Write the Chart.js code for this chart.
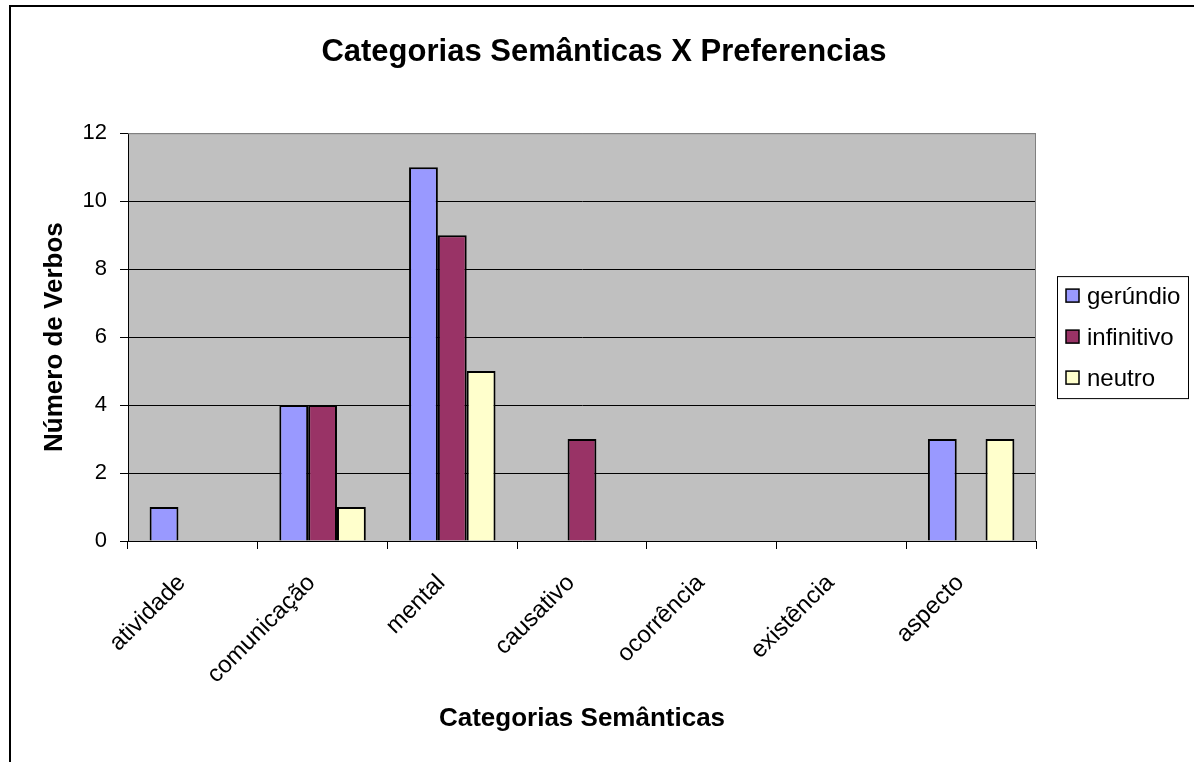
<!DOCTYPE html>
<html>
<head>
<meta charset="utf-8">
<title>Categorias Semânticas X Preferencias</title>
<script src="https://cdn.jsdelivr.net/npm/chart.js@4/dist/chart.umd.min.js"></script>
<style>
  html, body { margin: 0; padding: 0; background: #fff; overflow: hidden; }
  #frame {
    position: absolute; left: 9px; top: 5px; width: 1300px; height: 900px;
    border-left: 2px solid #000; border-top: 2px solid #000;
  }
  #wrap { position: absolute; left: 0; top: 0; width: 1194px; height: 762px; }
</style>
</head>
<body>
<div id="frame"></div>
<div id="wrap"><canvas id="semChart" width="1194" height="762"></canvas></div>
<script>
// categorias e contagens de verbos por preferência
const categorias = ['atividade', 'comunicação', 'mental', 'causativo', 'ocorrência', 'existência', 'aspecto'];
const gerundio   = [1, 4, 11, 0, 0, 0, 3];
const infinitivo = [0, 4, 9, 3, 0, 0, 0];
const neutro     = [0, 1, 5, 0, 0, 0, 3];
const yTicks     = [0, 2, 4, 6, 8, 10, 12];

const FONT = 'Arial, "Liberation Sans", sans-serif';

// plot area background + gray frame, Excel style
const plotArea = {
    id: 'plotArea',
    afterLayout(chart) {
        // center the title over the whole frame, not just the plot + padding
        if (chart.titleBlock) {
            chart.titleBlock.left = 14;
            chart.titleBlock.right = 1194;
        }
    },
    beforeDraw(chart) {
        const { ctx, chartArea: a } = chart;
        ctx.save();
        ctx.fillStyle = '#c0c0c0';
        ctx.fillRect(a.left, a.top, a.right - a.left, a.bottom - a.top);
        ctx.restore();
    },
    afterDraw(chart) {
        const { ctx, chartArea: a } = chart;
        ctx.save();
        ctx.strokeStyle = '#808080';
        ctx.lineWidth = 1;
        ctx.beginPath();
        ctx.moveTo(a.left, a.top + 0.5);
        ctx.lineTo(a.right - 0.5, a.top + 0.5);
        ctx.lineTo(a.right - 0.5, a.bottom);
        ctx.stroke();
        ctx.restore();
    }
};

// boxed legend to the right of the plot
const boxLegend = {
    id: 'boxLegend',
    afterDraw(chart) {
        const { ctx, chartArea: a } = chart;
        const sets = chart.data.datasets;
        const w = 131, rowH = 41, h = 122;
        const x = a.right + 21;
        const y = (a.top + a.bottom) / 2 - h / 2;
        ctx.save();
        ctx.fillStyle = '#fff';
        ctx.fillRect(x, y, w, h);
        ctx.strokeStyle = '#000';
        ctx.lineWidth = 1;
        ctx.strokeRect(x + 0.5, y + 0.5, w, h);
        ctx.font = '24px ' + FONT;
        ctx.textBaseline = 'middle';
        sets.forEach((ds, i) => {
            const cy = y + 20 + i * rowH;
            ctx.fillStyle = ds.backgroundColor;
            ctx.fillRect(x + 9, cy - 7, 13, 13);
            ctx.lineWidth = 1.5;
            ctx.strokeRect(x + 9, cy - 7, 13, 13);
            ctx.fillStyle = '#000';
            ctx.fillText(ds.label, x + 30, cy + 1);
        });
        ctx.restore();
    }
};

new Chart(document.getElementById('semChart'), {
    type: 'bar',
    data: {
        labels: categorias,
        datasets: [
            { label: 'gerúndio',   data: gerundio,   backgroundColor: '#9999ff' },
            { label: 'infinitivo', data: infinitivo, backgroundColor: '#993366' },
            { label: 'neutro',     data: neutro,     backgroundColor: '#ffffcc' }
        ].map(ds => Object.assign(ds, {
            borderColor: '#000',
            borderWidth: 2,
            barPercentage: 1,
            categoryPercentage: 3 / 4.5
        }))
    },
    plugins: [plotArea, boxLegend],
    options: {
        responsive: false,
        animation: false,
        layout: { padding: { left: 0, right: 158, top: 0, bottom: 0 } },
        plugins: {
            legend: { display: false },
            tooltip: { enabled: false },
            title: {
                display: true,
                text: 'Categorias Semânticas X Preferencias',
                color: '#000',
                font: { family: FONT, size: 31, weight: 'bold' },
                padding: { top: 34, bottom: 62 }
            }
        },
        scales: {
            x: {
                afterFit(scale) { scale.height = 221; },
                grid: {
                    offset: true,
                    drawOnChartArea: false,
                    drawTicks: true,
                    tickLength: 8,
                    tickColor: '#000'
                },
                border: { color: '#000', width: 1 },
                ticks: {
                    color: '#000',
                    font: { family: FONT, size: 24 },
                    minRotation: 45,
                    maxRotation: 45,
                    padding: 20,
                    labelOffset: -11,
                    autoSkip: false
                },
                title: {
                    display: true,
                    text: 'Categorias Semânticas',
                    color: '#000',
                    font: { family: FONT, size: 26, weight: 'bold' },
                    padding: { top: 4, bottom: 28 }
                }
            },
            y: {
                min: 0,
                max: 12,
                afterFit(scale) { scale.width = 128; },
                afterBuildTicks(scale) { scale.ticks = yTicks.map(v => ({ value: v })); },
                grid: {
                    color: c => (c.tick && c.tick.value === 12 ? '#808080' : '#000'),
                    lineWidth: 1,
                    tickLength: 8,
                    tickColor: '#000'
                },
                border: { color: '#000', width: 1 },
                ticks: {
                    color: '#000',
                    font: { family: FONT, size: 22 },
                    padding: 13
                },
                title: {
                    display: true,
                    text: 'Número de Verbos',
                    color: '#000',
                    font: { family: FONT, size: 26, weight: 'bold' },
                    padding: { top: 39 }
                }
            }
        }
    }
});
</script>
</body>
</html>
